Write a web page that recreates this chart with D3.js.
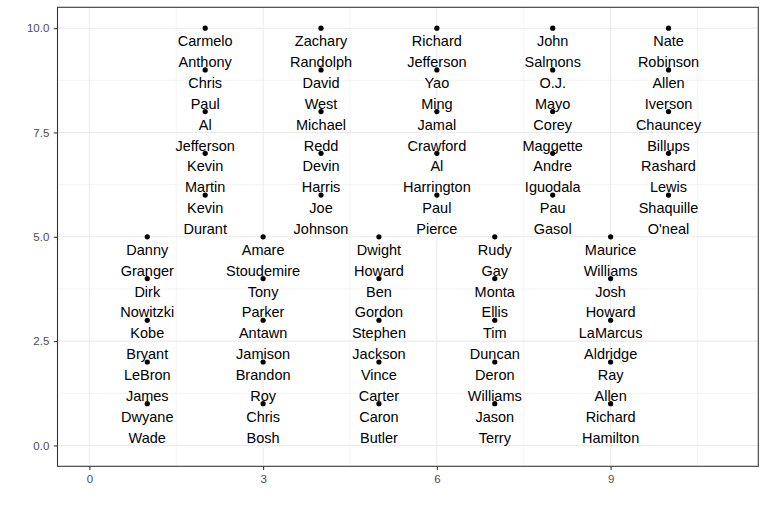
<!DOCTYPE html>
<html>
<head>
<meta charset="utf-8">
<script src="https://cdn.jsdelivr.net/npm/d3@7"></script>
<style>
  html, body { margin: 0; padding: 0; background: #ffffff; }
  svg { display: block; }
</style>
</head>
<body>
<svg id="chart" width="766" height="510"></svg>
<script>
// Data
const playerNames = [
  "Danny Granger", "Dirk Nowitzki", "Kobe Bryant", "LeBron James", "Dwyane Wade",
  "Carmelo Anthony", "Chris Paul", "Al Jefferson", "Kevin Martin", "Kevin Durant",
  "Amare Stoudemire", "Tony Parker", "Antawn Jamison", "Brandon Roy", "Chris Bosh",
  "Zachary Randolph", "David West", "Michael Redd", "Devin Harris", "Joe Johnson",
  "Dwight Howard", "Ben Gordon", "Stephen Jackson", "Vince Carter", "Caron Butler",
  "Richard Jefferson", "Yao Ming", "Jamal Crawford", "Al Harrington", "Paul Pierce",
  "Rudy Gay", "Monta Ellis", "Tim Duncan", "Deron Williams", "Jason Terry",
  "John Salmons", "O.J. Mayo", "Corey Maggette", "Andre Iguodala", "Pau Gasol",
  "Maurice Williams", "Josh Howard", "LaMarcus Aldridge", "Ray Allen", "Richard Hamilton",
  "Nate Robinson", "Allen Iverson", "Chauncey Billups", "Rashard Lewis", "Shaquille O'neal"
];
const xValues = [
  1,1,1,1,1, 2,2,2,2,2, 3,3,3,3,3, 4,4,4,4,4, 5,5,5,5,5,
  6,6,6,6,6, 7,7,7,7,7, 8,8,8,8,8, 9,9,9,9,9, 10,10,10,10,10
];
const yValues = [
  5,4,3,2,1, 10,9,8,7,6, 5,4,3,2,1, 10,9,8,7,6, 5,4,3,2,1,
  10,9,8,7,6, 5,4,3,2,1, 10,9,8,7,6, 5,4,3,2,1, 10,9,8,7,6
];
const xTicks = [0, 3, 6, 9];
const xMinor = [1.5, 4.5, 7.5, 10.5];
const yTicks = [0, 2.5, 5, 7.5, 10];
const yMinor = [1.25, 3.75, 6.25, 8.75];
const xLimits = [0, 11];
const yLimits = [0, 10];

const data = playerNames.map((n, i) => ({ name: n, x: xValues[i], y: yValues[i] }));

// Layout
const panel = { left: 57.5, right: 758.3, top: 7.3, bottom: 466.3 };
const expand = (lim) => { const r = lim[1] - lim[0]; return [lim[0] - 0.05 * r, lim[1] + 0.05 * r]; };

const x = d3.scaleLinear().domain(expand(xLimits)).range([panel.left, panel.right]);
const y = d3.scaleLinear().domain(expand(yLimits)).range([panel.bottom, panel.top]);

const svg = d3.select("#chart");
const font = "'Liberation Sans', Arial, Helvetica, sans-serif";

// Panel background
svg.append("rect")
  .attr("x", panel.left).attr("y", panel.top)
  .attr("width", panel.right - panel.left).attr("height", panel.bottom - panel.top)
  .attr("fill", "#ffffff");

const grid = svg.append("g");
// minor grid
grid.selectAll(".xminor").data(xMinor).enter().append("line")
  .attr("x1", d => x(d)).attr("x2", d => x(d))
  .attr("y1", panel.top).attr("y2", panel.bottom)
  .attr("stroke", "#EBEBEB").attr("stroke-width", 0.55);
grid.selectAll(".yminor").data(yMinor).enter().append("line")
  .attr("y1", d => y(d)).attr("y2", d => y(d))
  .attr("x1", panel.left).attr("x2", panel.right)
  .attr("stroke", "#EBEBEB").attr("stroke-width", 0.55);
// major grid
grid.selectAll(".xmajor").data(xTicks).enter().append("line")
  .attr("x1", d => x(d)).attr("x2", d => x(d))
  .attr("y1", panel.top).attr("y2", panel.bottom)
  .attr("stroke", "#EBEBEB").attr("stroke-width", 1.07);
grid.selectAll(".ymajor").data(yTicks).enter().append("line")
  .attr("y1", d => y(d)).attr("y2", d => y(d))
  .attr("x1", panel.left).attr("x2", panel.right)
  .attr("stroke", "#EBEBEB").attr("stroke-width", 1.07);

// Points
svg.append("g").selectAll("circle").data(data).enter().append("circle")
  .attr("cx", d => x(d.x)).attr("cy", d => y(d.y))
  .attr("r", 2.6).attr("fill", "#000000");

// Labels (two lines under each point)
const labels = svg.append("g")
  .attr("font-family", font).attr("font-size", "14.5px")
  .attr("fill", "#000000").attr("text-anchor", "middle");
data.forEach(d => {
  const parts = d.name.split(" ");
  const first = parts[0];
  const rest = parts.slice(1).join(" ");
  const t = labels.append("text");
  t.append("tspan").attr("x", x(d.x)).attr("y", y(d.y) + 18).text(first);
  t.append("tspan").attr("x", x(d.x)).attr("y", y(d.y) + 38.9).text(rest);
});

// Panel border
svg.append("rect")
  .attr("x", panel.left).attr("y", panel.top)
  .attr("width", panel.right - panel.left).attr("height", panel.bottom - panel.top)
  .attr("fill", "none").attr("stroke", "#333333").attr("stroke-width", 1.07);

// Axes
const xAxis = d3.axisBottom(x).tickValues(xTicks).tickSize(3.7).tickPadding(5.2)
  .tickFormat(d3.format("d"));
const gx = svg.append("g").attr("transform", `translate(0,${panel.bottom})`).call(xAxis);
gx.select(".domain").remove();
gx.selectAll(".tick line").attr("stroke", "#333333").attr("stroke-width", 1.07);
gx.selectAll(".tick text").attr("fill", "#4D4D4D").attr("font-family", font).attr("font-size", "11.5px");

const yAxis = d3.axisLeft(y).tickValues(yTicks).tickSize(3.7).tickPadding(4.5)
  .tickFormat(d3.format(".1f"));
const gy = svg.append("g").attr("transform", `translate(${panel.left},0)`).call(yAxis);
gy.select(".domain").remove();
gy.selectAll(".tick line").attr("stroke", "#333333").attr("stroke-width", 1.07);
gy.selectAll(".tick text").attr("fill", "#4D4D4D").attr("font-family", font).attr("font-size", "11.5px");
</script>
</body>
</html>
